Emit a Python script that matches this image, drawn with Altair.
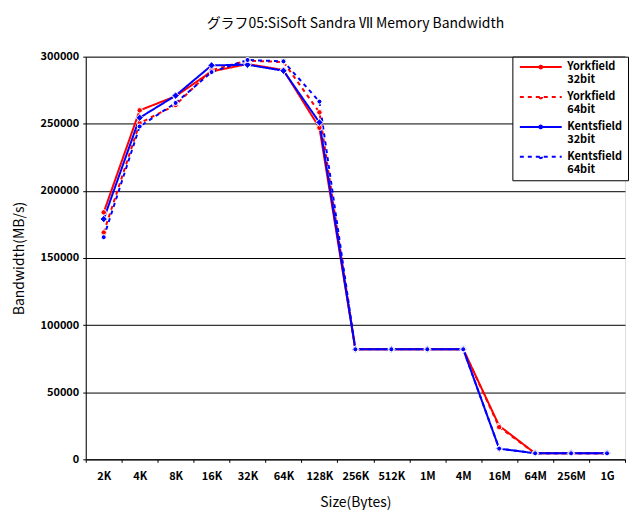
import altair as alt
import pandas as pd

sizes = ["2K", "4K", "8K", "16K", "32K", "64K", "128K", "256K", "512K", "1M", "4M", "16M", "64M", "256M", "1G"]
series_names = ["Yorkfield|32bit", "Yorkfield|64bit", "Kentsfield|32bit", "Kentsfield|64bit"]
york32 = [184000, 260000, 270500, 289000, 294500, 290000, 247000, 82000, 82000, 82000, 82000, 25000, 4500, 4500, 4500]
york64 = [169000, 250500, 264000, 290000, 297000, 296000, 258500, 82000, 82000, 82000, 82000, 24000, 4500, 4500, 4500]
kents32 = [179000, 254500, 271000, 293500, 294000, 289500, 251000, 82000, 82000, 82000, 82000, 8000, 4500, 4500, 4500]
kents64 = [165500, 248000, 265500, 288500, 297500, 296500, 266500, 82000, 82000, 82000, 82000, 8000, 4500, 4500, 4500]
y_ticks = [0, 50000, 100000, 150000, 200000, 250000, 300000]

colors = ["#FF0000", "#FF0000", "#0000FF", "#0000FF"]
dashes = [[1, 0], [4, 4], [1, 0], [4, 4]]
shapes = ["circle", "circle", "diamond", "circle"]
point_sizes = [30, 30, 55, 25]

rows = []
for i, (name, vals) in enumerate(zip(series_names, [york32, york64, kents32, kents64])):
    for s, v in zip(sizes, vals):
        rows.append({"series": name, "size": s, "bw": v, "order": i})
df = pd.DataFrame(rows)

font = "Noto Sans CJK JP"

x = alt.X("size:N", sort=sizes, bandPosition=0.5,
          scale=alt.Scale(type="band", domain=sizes, paddingInner=0, paddingOuter=0),
          axis=alt.Axis(title="Size(Bytes)", labelAngle=0, tickBand="extent", tickSize=3,
                        tickColor="black", domainColor="black", labelFont=font, labelFontWeight="bold",
                        labelFontSize=11, labelPadding=8, titleFont=font, titleFontSize=14,
                        titleFontWeight="normal", titlePadding=14, labelColor="black", titleColor="black"))
y = alt.Y("bw:Q", scale=alt.Scale(domain=[0, 300000], nice=False),
          axis=alt.Axis(title="Bandwidth(MB/s)", values=y_ticks, format="d", grid=True, gridColor="black",
                        gridWidth=1, tickSize=3, tickColor="black", domainColor="black",
                        labelFont=font, labelFontWeight="bold", labelFontSize=11, labelPadding=4,
                        titleFont=font, titleFontSize=14, titleFontWeight="normal", titlePadding=14,
                        labelColor="black", titleColor="black"))

legend = alt.Legend(title=None, orient="none", legendX=428, legendY=0,
                    symbolType="M-6,0H6M-0.4,0A0.4,0.4 0 1 0 0.4,0A0.4,0.4 0 1 0 -0.4,0",
                    symbolStrokeWidth=2, symbolSize=49, symbolOffset=18,
                    labelExpr="split(datum.label, '|')",
                    labelFont=font, labelFontWeight="bold",
                    labelFontSize=11, labelLimit=200,
                    labelColor="black", fillColor="white", strokeColor="black",
                    padding=5, rowPadding=5, labelOffset=21, cornerRadius=0)

color = alt.Color("series:N", sort=series_names,
                  scale=alt.Scale(domain=series_names, range=colors), legend=legend)
dash = alt.StrokeDash("series:N", sort=series_names,
                      scale=alt.Scale(domain=series_names, range=dashes), legend=legend)

lines = alt.Chart(df).mark_line(strokeWidth=2).encode(
    x=x, y=y, color=color, strokeDash=dash, detail="series:N", order="order:Q")

point_layers = []
for name, c, shp, sz in zip(series_names, colors, shapes, point_sizes):
    point_layers.append(
        alt.Chart(df).transform_filter(alt.datum.series == name)
        .mark_point(filled=True, fill=c, stroke="white", strokeWidth=1, opacity=1, shape=shp, size=sz)
        .encode(x=x, y=y)
    )

chart = alt.layer(lines, *point_layers).properties(
    width=541, height=404,
    title=alt.Title("グラフ05:SiSoft Sandra Ⅶ Memory Bandwidth", font=font, fontSize=14,
                    fontWeight="normal", color="black", offset=20),
    padding={"left": 4, "top": 8, "right": 0, "bottom": 0},
).configure_view(fill="#C0C0C0", stroke="black", strokeWidth=1
).configure(background="white")

chart.save("out.html", embed_options={"renderer": "svg", "actions": False})
